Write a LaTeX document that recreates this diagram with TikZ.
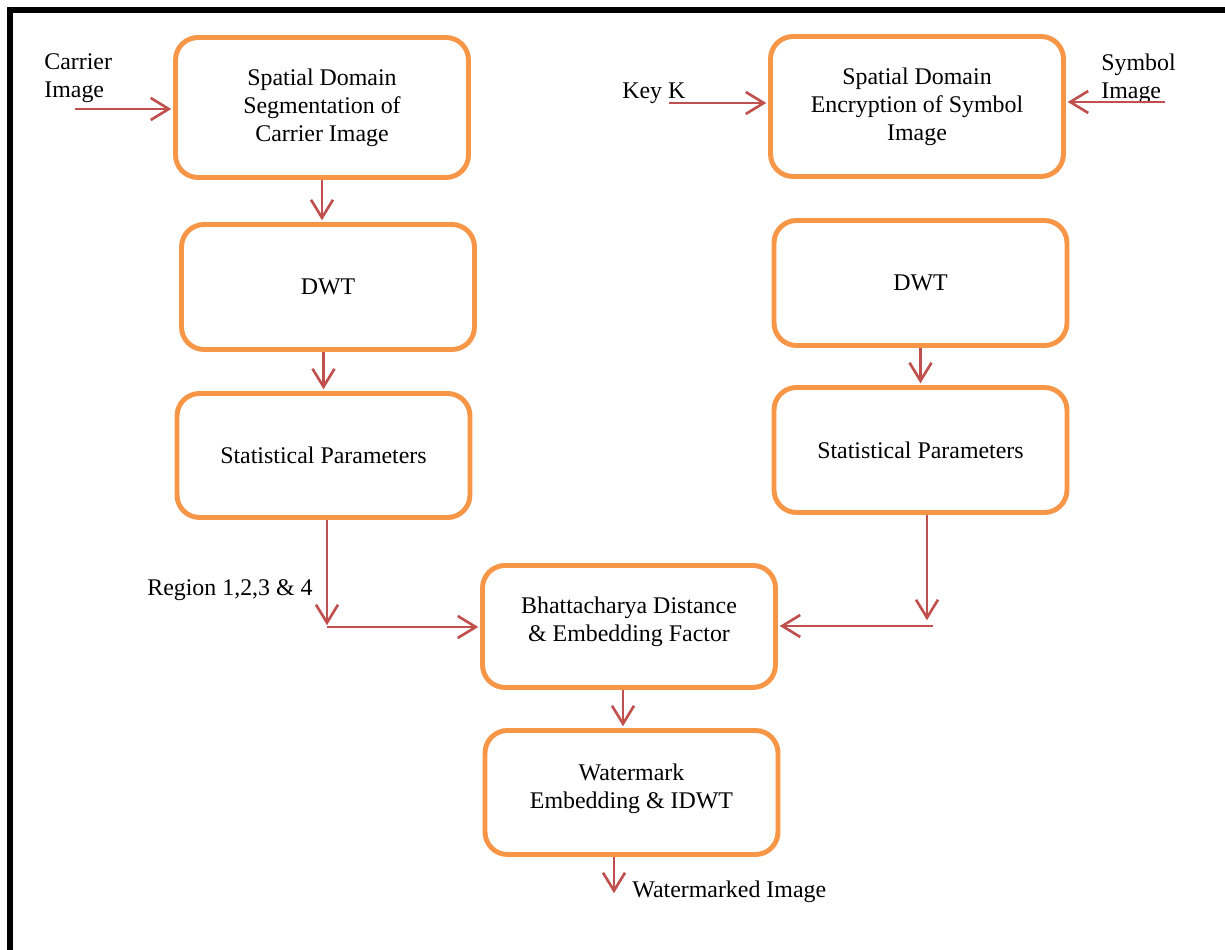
\documentclass[tikz,border=0pt]{standalone}
\usepackage{fontspec}
\setmainfont{Liberation Serif}
\usetikzlibrary{arrows.meta}
\definecolor{boxorange}{HTML}{F79646}
\definecolor{arrred}{HTML}{C0504D}

\begin{document}
\begin{tikzpicture}
[blk/.style={rectangle,rounded corners=0.45cm,draw=boxorange,line width=2.8pt,fill=white,align=center,minimum width=5.86cm,minimum height=2.5cm,inner sep=2pt},
lbl/.style={align=left,inner sep=0pt},
flow/.style={draw=arrred,line width=1.5pt,shorten >=1pt},
every node/.style={font=\fontsize{13.6pt}{16pt}\selectfont},
>={Straight Barb[length=3.6mm,width=4.4mm]}]
\useasboundingbox (0,0) rectangle (24.5,19);
\draw[line width=3.4pt] (0.2,0) -- (0.2,18.8) -- (24.5,18.8);
% boxes
\node[blk,minimum height=2.8cm] at (6.44,16.85) (n1) {Spatial Domain\\Segmentation of\\Carrier Image};
\node[blk] at (6.56,13.26) (n2) {DWT};
\node[blk,minimum height=2.48cm] at (6.47,9.89) (n3) {Statistical Parameters};
\node[blk,minimum height=2.8cm] at (18.34,16.87) (n4) {Spatial Domain\\Encryption of Symbol\\Image};
\node[blk] at (18.41,13.34) (n5) {DWT};
\node[blk] at (18.41,10.0) (n6) {Statistical Parameters};
\node[blk,minimum height=2.44cm,text depth=0.3cm] at (12.58,6.47) (n7) {Bhattacharya Distance\\\& Embedding Factor};
\node[blk,minimum height=2.48cm,text depth=0.25cm] at (12.63,3.15) (n8) {Watermark\\Embedding \& IDWT};
% labels
\node[lbl,anchor=west] at (0.88,17.44) (cimg) {Carrier\\Image};
\node[lbl,anchor=west] at (12.44,17.14) (key) {Key K};
\node[lbl,anchor=west] at (22.02,17.42) (simg) {Symbol\\Image};
\node[lbl,anchor=west] at (2.94,7.2) (reg) {Region 1,2,3 \& 4};
\node[lbl,anchor=west] at (12.64,1.16) (wimg) {Watermarked Image};
\coordinate (cin) at (1.5,16.82);
\coordinate (kin) at (13.38,16.94);
\coordinate (sin) at (23.3,16.96);
\coordinate (c1) at (6.54,6.46);
\coordinate (c2) at (18.54,6.56);
\coordinate (c3) at (18.66,6.48);
\coordinate (c4) at (12.28,1.1);
% arrows
\draw[->,flow] (cin) -- (n1.west |- cin);
\draw[->,flow] (kin) -- (n4.west |- kin);
\draw[->,flow] (sin) -- (n4.east |- sin);
\draw[->,flow] (n1.south) -- (n1.south |- n2.north);
\draw[->,flow] (n3.north |- n2.south) -- (n3.north);
\draw[->,flow] (c1 |- n3.south) -- (c1);
\draw[->,flow] (c1) -- (n7.west |- c1);
\draw[->,flow] (n5.south) -- (n5.south |- n6.north);
\draw[->,flow] (c2 |- n6.south) -- (c2);
\draw[->,flow] (c3) -- (n7.east |- c3);
\draw[->,flow] ([xshift=-0.12cm]n7.south) -- ([xshift=-0.12cm]n7.south |- n8.north);
\draw[->,flow] (c4 |- n8.south) -- (c4);
\end{tikzpicture}
\end{document}
